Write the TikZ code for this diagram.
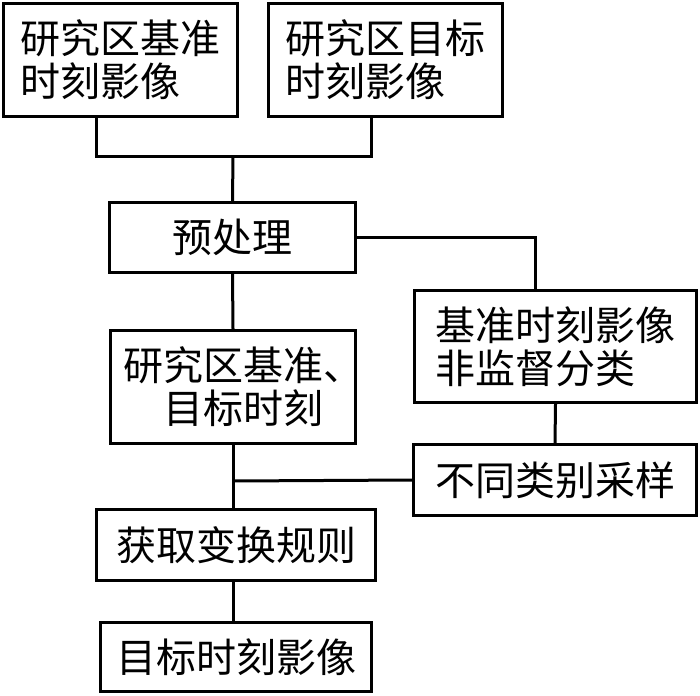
\documentclass[tikz,border=0pt]{standalone}
\usepackage{fontspec}
\newfontfamily\cjk{Noto Sans CJK SC}
\usetikzlibrary{positioning,calc}

\begin{document}
\begin{tikzpicture} [x=1pt, y=-1pt, line width=3pt,
          txt/.style={inner sep=0, font=\cjk\fontsize{40pt}{43pt}\selectfont},
          box/.style={draw, txt}]
          \useasboundingbox (0,0) rectangle (700,695);
          % top row
          \node[box, align=left, minimum width=234pt, minimum height=113pt] (base) at (120.5,60) {研究区基准\\时刻影像};
          \node[box, align=left, minimum width=234pt, minimum height=113pt] (target) at (385.5,60) {研究区目标\\时刻影像};
          \node[box, minimum width=246pt, minimum height=70pt] (prep) at (232.5,237.5) {预处理};
          % right column
          \node[box, align=left, minimum width=282pt, minimum height=112pt] (unsup) at (555.5,346.5) {基准时刻影像\\非监督分类};
          \node[box, minimum width=283pt, minimum height=71pt] (sample) at (555,480) {不同类别采样};
          % left column
          \node[box, minimum width=245pt, minimum height=113pt] (both) at (233,387) {};
          \node[txt, align=center] (bothtext) at ([xshift=10pt]both.center) {研究区基准、\\目标时刻};
          \node[box, minimum width=279pt, minimum height=71pt] (rule) at (236,545) {获取变换规则};
          \node[box, minimum width=271pt, minimum height=69pt] (result) at (236,657) {目标时刻影像};
          % connectors
          \coordinate (join) at (233,156);
          \coordinate (mid) at (233,481);
          \draw ([xshift=-24pt]base.south) |- (join) -| ([xshift=-14pt]target.south);
          \draw (join) -- (prep.north);
          \draw (prep.east) -| ([xshift=-20pt]unsup.north);
          \draw (prep.south) -- (both.north);
          \draw (unsup.south) -- (sample.north);
          \draw (both.south) -- (both.south |- rule.north);
          \draw (mid) -- (sample.west);
          \draw (both.south |- rule.south) -- (both.south |- result.north);
        \end{tikzpicture}
\end{document}
